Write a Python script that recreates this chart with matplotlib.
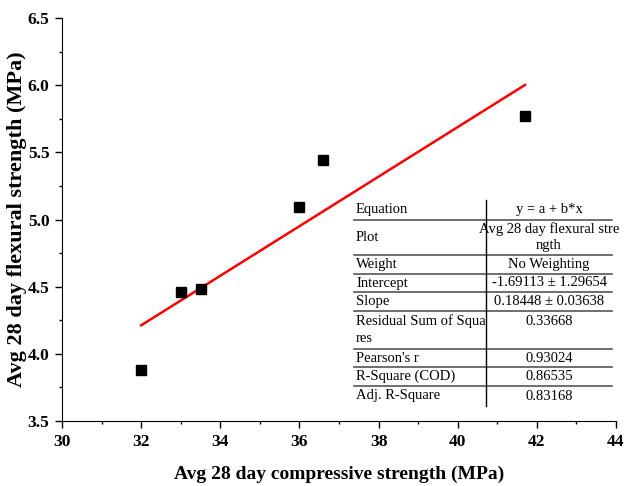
import matplotlib
matplotlib.use('Agg')
import matplotlib.pyplot as plt
import numpy as np

# measured averages
compressive = [32.0, 33.0, 33.5, 36.0, 36.6, 41.7]
flexural = [3.88, 4.46, 4.48, 5.09, 5.44, 5.77]

# linear fit results
intercept = -1.69113
slope = 0.18448

fit_rows = [
    ("Equation", "y = a + b*x"),
    ("Plot", "Avg 28 day flexural stre\nngth"),
    ("Weight", "No Weighting"),
    ("Intercept", "-1.69113 \u00b1 1.29654"),
    ("Slope", "0.18448 \u00b1 0.03638"),
    ("Residual Sum of Squa\nres", "0.33668"),
    ("Pearson's r", "0.93024"),
    ("R-Square (COD)", "0.86535"),
    ("Adj. R-Square", "0.83168"),
]

plt.rcParams['font.family'] = ['Liberation Serif', 'DejaVu Serif']

W, H = 626, 486
fig = plt.figure(figsize=(W / 100, H / 100), dpi=100)
ax = fig.add_axes([62 / W, 1 - 421 / H, 554 / W, 403 / H])

ax.plot(compressive, flexural, 's', color='black', markersize=6.5, zorder=3)
xs = np.array([min(compressive), max(compressive)])
ax.plot(xs, intercept + slope * xs, color='red', lw=1.8, zorder=2)

ax.set_xlim(30, 44)
ax.set_ylim(3.5, 6.5)
ax.set_xticks(np.arange(30, 44.1, 2))
ax.set_xticks(np.arange(30, 44.1, 1), minor=True)
ax.set_yticks(np.arange(3.5, 6.51, 0.5))
ax.set_yticks(np.arange(3.5, 6.51, 0.25), minor=True)
ax.yaxis.set_major_formatter(matplotlib.ticker.FormatStrFormatter('%.1f'))
ax.tick_params(which='major', direction='out', length=5, width=1, labelsize=12.5, pad=4)
ax.tick_params(which='minor', direction='out', length=2.5, width=1)
for lab in ax.get_xticklabels() + ax.get_yticklabels():
    lab.set_fontweight('bold')
ax.spines['top'].set_visible(False)
ax.spines['right'].set_visible(False)
ax.set_xlabel('Avg 28 day compressive strength (MPa)', fontsize=14, fontweight='bold', labelpad=12)
ax.set_ylabel('Avg 28 day flexural strength (MPa)', fontsize=16, fontweight='bold')
ax.yaxis.set_label_coords(-(62 - 27) / 554, 0.5)

# fit statistics table, drawn in figure pixels
row_edges = [200, 220, 255, 274, 292, 311, 349, 367, 386, 406]
x0, xmid, x1 = 354, 486, 612
fs = 10.5


def fx(px):
    return px / W


def fy(py):
    return 1 - py / H


for edge in row_edges[1:-1]:
    fig.add_artist(plt.Line2D([fx(x0), fx(x1)], [fy(edge), fy(edge)], color='#555555', lw=1.2))
fig.add_artist(plt.Line2D([fx(xmid), fx(xmid)], [fy(row_edges[0]), fy(row_edges[-1])], color='black', lw=1.0))

for i, (name, value) in enumerate(fit_rows):
    top, bot = row_edges[i], row_edges[i + 1]
    mid = (top + bot) / 2
    cx = (xmid + x1) / 2
    if '\n' in name:
        first, second = name.split('\n')
        fig.text(fx(x0 + 2), fy(top + 10), first, ha='left', va='center', fontsize=fs)
        fig.text(fx(x0 + 2), fy(top + 28), second, ha='left', va='center', fontsize=fs)
        fig.text(fx(cx), fy(top + 10), value, ha='center', va='center', fontsize=fs)
    elif '\n' in value:
        first, second = value.split('\n')
        fig.text(fx(x0 + 2), fy(mid), name, ha='left', va='center', fontsize=fs)
        fig.text(fx(cx), fy(top + 9), first, ha='center', va='center', fontsize=fs)
        fig.text(fx(cx), fy(top + 25), second, ha='center', va='center', fontsize=fs)
    else:
        fig.text(fx(x0 + 2), fy(mid), name, ha='left', va='center', fontsize=fs)
        fig.text(fx(cx), fy(mid), value, ha='center', va='center', fontsize=fs)

fig.savefig('out.png', dpi=100)
